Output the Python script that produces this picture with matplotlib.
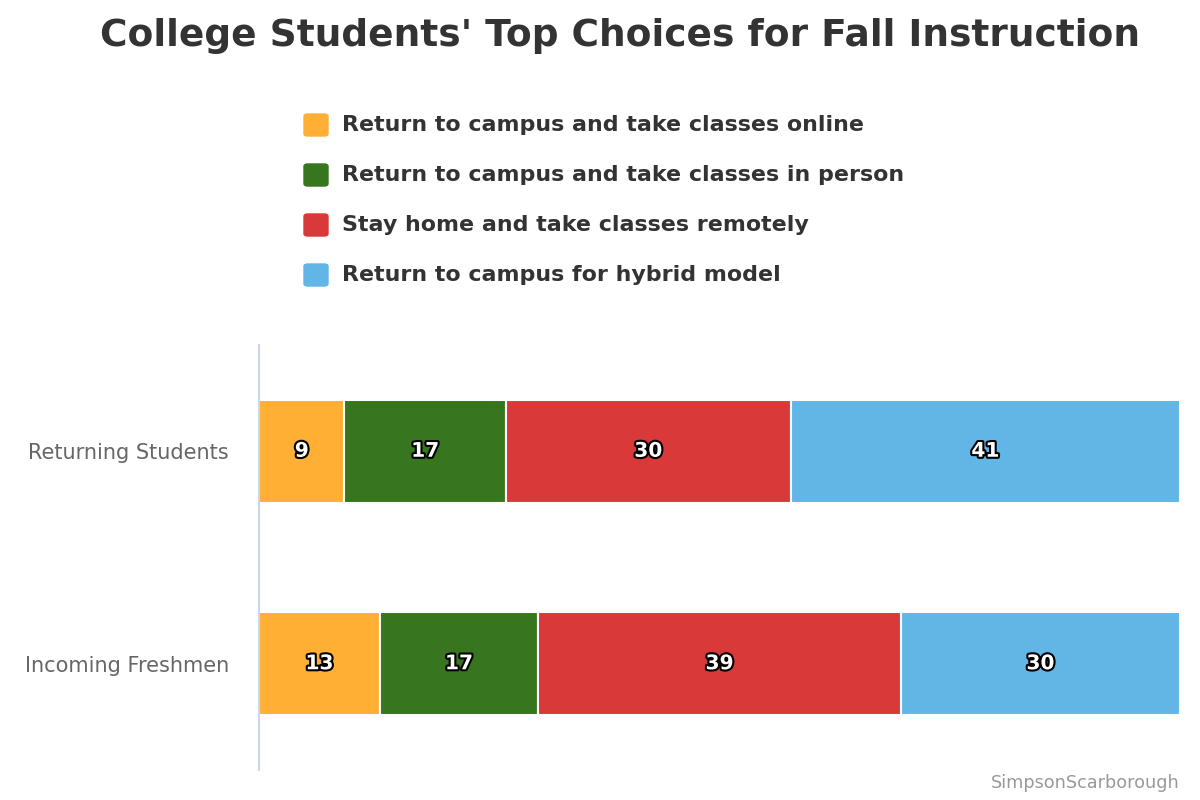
import matplotlib.pyplot as plt
import matplotlib.patheffects as pe
from matplotlib.patches import FancyBboxPatch
import numpy as np

# data
groups = ['Returning Students', 'Incoming Freshmen']
series = ['Return to campus and take classes online',
          'Return to campus and take classes in person',
          'Stay home and take classes remotely',
          'Return to campus for hybrid model']
values = [
    [9, 13],
    [17, 17],
    [30, 39],
    [41, 30],
]
colors = ['#FFAF33', '#37761E', '#DA3939', '#62B6E5']

plt.rcParams['font.family'] = ['DejaVu Sans']

fig = plt.figure(figsize=(12, 8), dpi=100)
ax = fig.add_axes([259 / 1200, 30 / 800, 921 / 1200, 425 / 800])

# bars are stacked as percent of each row's total
vals = np.array(values, dtype=float)
totals = vals.sum(axis=0)
pct = vals / totals * 100
left = np.zeros(len(groups))
ypos = np.arange(len(groups))

for i, name in enumerate(series):
    ax.barh(ypos, pct[i], left=left, height=0.485, color=colors[i],
            edgecolor='white', linewidth=1.5, label=name)
    for j in range(len(groups)):
        ax.text(left[j] + pct[i][j] / 2, ypos[j], str(values[i][j]),
                ha='center', va='center', color='white', fontsize=14.5,
                fontweight='bold',
                path_effects=[pe.withStroke(linewidth=3, foreground='black')])
    left += pct[i]

ax.set_xlim(0, 100)
ax.set_ylim(1.5, -0.5)
ax.set_yticks(ypos)
ax.set_yticklabels(groups, fontsize=15, color='#666666')
ax.tick_params(axis='y', length=0, pad=21.6)
ax.set_xticks([])
for s in ['top', 'right', 'bottom']:
    ax.spines[s].set_visible(False)
ax.spines['left'].set_color('#CCD6EB')
ax.spines['left'].set_linewidth(1.5)

fig.text(620 / 1200, 1 - 36 / 800, "College Students' Top Choices for Fall Instruction",
         ha='center', va='center', fontsize=27, fontweight='bold', color='#333333')

# legend built by hand
for i, name in enumerate(series):
    yc = 1 - (125 + 50 * i) / 800
    fig.patches.append(FancyBboxPatch((304 / 1200, yc - 11 / 800), 24 / 1200, 22 / 800,
                                      boxstyle='round,pad=0,rounding_size=0.003',
                                      transform=fig.transFigure, color=colors[i]))
    fig.text(342 / 1200, yc, name, ha='left', va='center', fontsize=15.9,
             fontweight='bold', color='#333333')

fig.text(1180 / 1200, 1 - 783 / 800, 'SimpsonScarborough', ha='right', va='center',
         fontsize=12.7, color='#999999')

fig.savefig('out.png', dpi=100, facecolor='white')
